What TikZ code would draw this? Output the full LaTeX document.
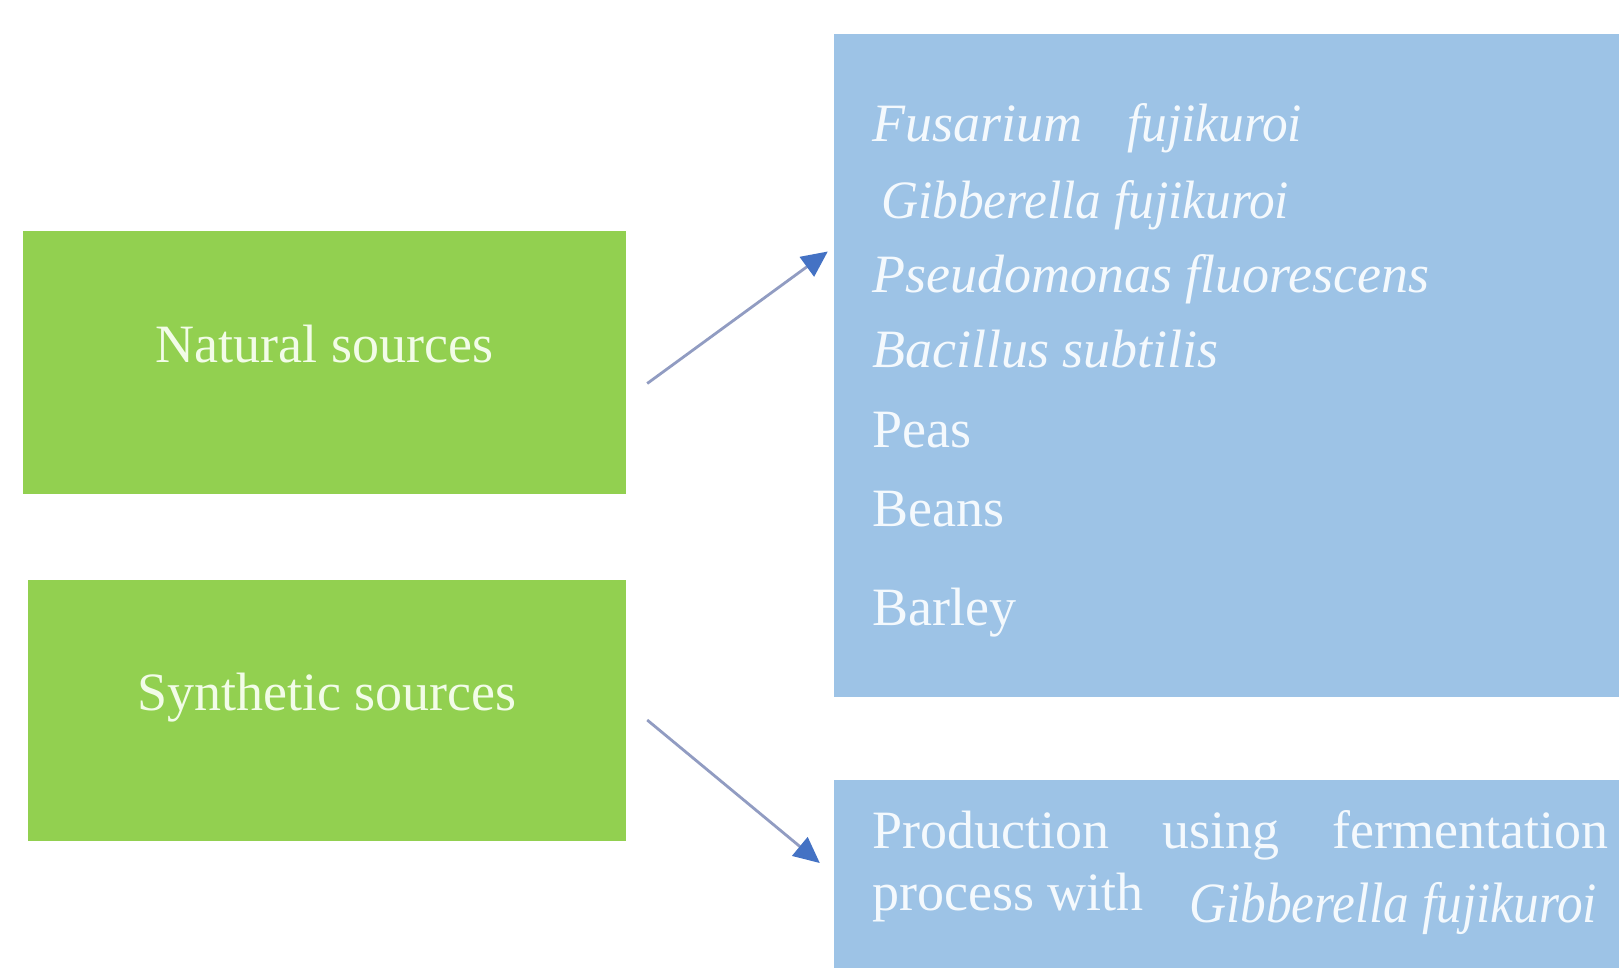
\documentclass[tikz,border=0pt]{standalone}
\usepackage{fontspec}
\setmainfont{Liberation Serif}
\newfontfamily\condfont{Liberation Serif}[FakeStretch=0.9]
\newfontfamily\narrowfont{Liberation Serif}[FakeStretch=0.95]
\usetikzlibrary{arrows.meta,calc}
\definecolor{boxgreen}{RGB}{146,208,80}
\definecolor{boxblue}{RGB}{157,195,230}
\definecolor{gtextc}{RGB}{242,252,232}
\definecolor{btextc}{RGB}{244,249,253}
\definecolor{linegray}{RGB}{145,156,194}
\definecolor{headblue}{RGB}{68,114,196}
\begin{document}
\begin{tikzpicture}[x=1pt,y=-1pt,
  gbox/.style={fill=boxgreen, draw=none, inner sep=0pt},
  bbox/.style={fill=boxblue, draw=none, inner sep=0pt},
  gtext/.style={text=gtextc, font=\fontsize{54}{60}\selectfont, inner sep=0pt, anchor=base},
  btext/.style={text=btextc, font=\fontsize{54}{60}\selectfont, inner sep=0pt, anchor=base west},
  conn/.style={draw=linegray, line width=2.8pt, -{Triangle[length=26pt,width=24pt,color=headblue,fill=headblue]}}
]
\useasboundingbox (0,0) rectangle (1619,968);
\fill[white] (0,0) rectangle (1619,968);

% green boxes
\node[gbox, minimum width=603, minimum height=263] (nat) at (324.5,362.5) {};
\node[gtext] (natt) at (nat.center) {Natural sources};
\node[gbox, minimum width=598, minimum height=261] (syn) at (327,710.5) {};
\node[gtext] (synt) at (syn.center) {Synthetic sources};

% blue boxes
\node[bbox, minimum width=785, minimum height=663] (nb) at (1226.5,365.5) {};
\node[bbox, minimum width=785, minimum height=188] (pb) at (1226.5,874) {};

% list in top blue box
\node[btext] (l1) at (872,142) {\itshape Fusarium};
\node[btext] (l1b) at (1127,142) {\narrowfont\itshape fujikuroi};
\node[btext] (l2) at (881,219) {\narrowfont\itshape Gibberella fujikuroi};
\node[btext] (l3) at (872,293) {\itshape Pseudomonas fluorescens};
\node[btext] (l4) at (872,367) {\itshape Bacillus subtilis};
\node[btext] (l5) at (872,447) {Peas};
\node[btext] (l6) at (872,526) {Beans};
\node[btext] (l7) at (872,625) {Barley};

% bottom blue box text
\node[btext, text width=736] (p1) at (872,848) {Production\hfill using\hfill fermentation};
\node[btext] (p2) at (872,910) {process with};
\node[btext, font=\fontsize{57}{62}\selectfont] (p3) at (1189,922) {\condfont\itshape Gibberella fujikuroi};

% connectors
\coordinate (a1s) at ($(nat.east)+(21,21)$);
\coordinate (a1e) at ($(nb.west)+(-6,-114)$);
\coordinate (a2s) at ($(syn.east)+(21,9.5)$);
\coordinate (a2e) at ($(pb.west)+(-14,-11)$);
\draw[conn] (a1s) -- (a1e);
\draw[conn] (a2s) -- (a2e);
\end{tikzpicture}
\end{document}
